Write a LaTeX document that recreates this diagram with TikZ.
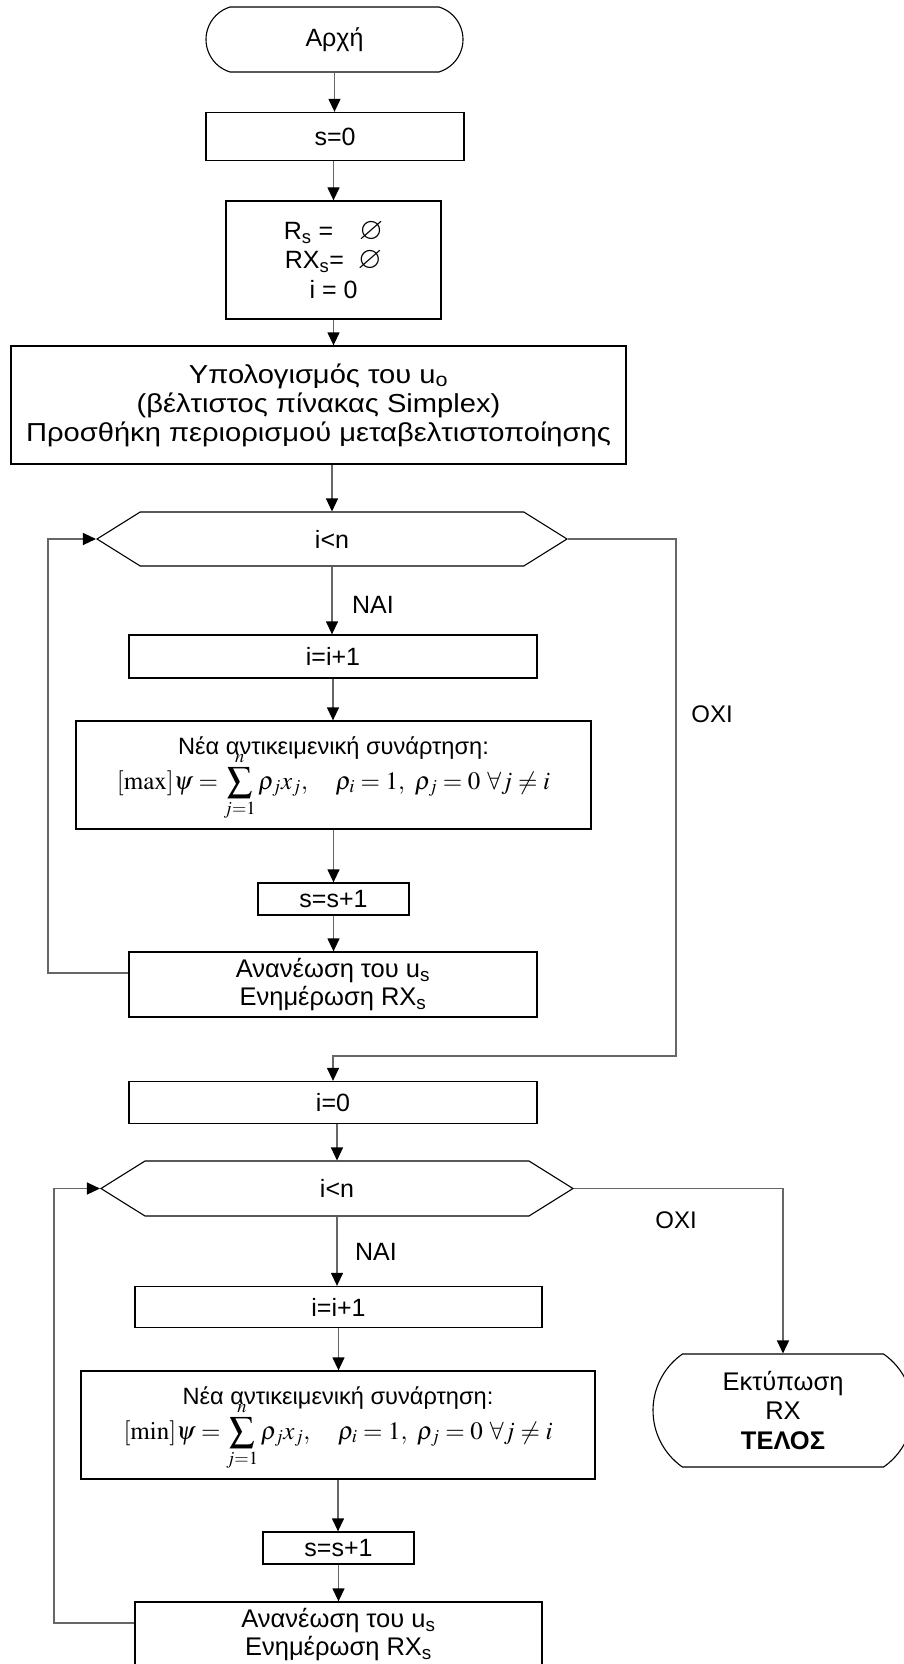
\documentclass[tikz,border=0pt]{standalone}
\usepackage{amssymb}
\usepackage{mathptmx}
\usepackage[no-math]{fontspec}
\setmainfont{Liberation Sans}
\newfontfamily\widesans[FakeStretch=1.12]{Liberation Sans}
\usetikzlibrary{arrows.meta,shapes.misc,shapes.symbols}

% objective function, shared by both loops
\newcommand{\objfun}[1]{{\fontsize{25}{30}\selectfont
  $[\mathrm{#1}]\psi = \displaystyle\sum_{j=1}^{n}\rho_j x_j,\quad \rho_i = 1,\ \rho_j = 0\ \forall j \neq i$}}
% large empty-set sign
\newcommand{\nullset}{{\fontsize{31}{29}\selectfont$\varnothing$}}

\begin{document}
\begin{tikzpicture}[x=1pt,y=-1pt,
  every node/.style={font=\fontsize{25}{29.5}\selectfont},
  proc/.style={draw=black, line width=1.3pt, rectangle, align=center, inner sep=0pt},
  term/.style={draw=black, line width=1.1pt, rounded rectangle, align=center, inner sep=0pt},
  test/.style={draw=black, line width=1.1pt, signal, signal to=west and east,
    signal pointer angle=64, inner sep=0pt},
  flow/.style={draw=black!60, line width=1.3pt,
    -{Triangle[length=13pt,width=12pt,color=black]}},
  tag/.style={inner sep=0pt},
  objective/.style={proc, font=\fontsize{23.6}{29}\selectfont},
  update/.style={proc, font=\fontsize{25.5}{28.5}\selectfont}]

\clip (0,0) rectangle (904,1664);

% ---- initialisation ----
\node[term, rounded rectangle arc length=146, minimum width=257pt, minimum height=65pt]
  (start) at (334.5,39.5) {Αρχή};
\node[proc, minimum width=258pt, minimum height=48pt] (s0) at (335,136.5) {s=0};
\node[proc, minimum width=215pt, minimum height=118pt] (init) at (333.5,260)
  {R\textsubscript{s} =\hspace{26pt}\nullset\\
   RX\textsubscript{s}=\hspace{14pt}\nullset\\
   i = 0};
\node[proc, minimum width=615pt, minimum height=118pt,
  font=\widesans\fontsize{26}{29}\selectfont] (uo) at (318.5,405)
  {Υπολογισμός του u\textsubscript{o}\\
   (βέλτιστος πίνακας Simplex)\\
   Προσθήκη περιορισμού μεταβελτιστοποίησης};

% ---- first loop (max) ----
\node[test, minimum width=470pt, minimum height=54pt] (loopA) at (332,539) {i<n};
\node[tag] (yesA) at (373,605) {ΝΑΙ};
\node[proc, minimum width=408pt, minimum height=43pt] (incA) at (333,656.5) {i=i+1};
\node[objective, minimum width=515pt, minimum height=108pt] (objA) at (333.5,775)
  {\rule{0pt}{26pt}Νέα αντικειμενική συνάρτηση:\\[-9pt] \objfun{max}};
\node[proc, minimum width=151pt, minimum height=32pt] (stepA) at (333.5,899) {s=s+1};
\node[update, minimum width=408pt, minimum height=65pt] (updA) at (333,984.5)
  {Ανανέωση του u\textsubscript{s}\\ Ενημέρωση RX\textsubscript{s}};
\node[tag, font=\fontsize{24}{29}\selectfont] (noA) at (712,714) {ΟΧΙ};
\coordinate (backA) at (48,539);
\coordinate (turnA) at (676,1056);

% ---- second loop (min) ----
\node[proc, minimum width=408pt, minimum height=42pt] (zero) at (333,1102.5) {i=0};
\node[test, minimum width=472pt, minimum height=55pt] (loopB) at (337,1188.5) {i<n};
\node[tag] (yesB) at (376,1252) {ΝΑΙ};
\node[proc, minimum width=407pt, minimum height=41pt] (incB) at (338.5,1307) {i=i+1};
\node[objective, minimum width=514pt, minimum height=108pt] (objB) at (338,1425)
  {\rule{0pt}{26pt}Νέα αντικειμενική συνάρτηση:\\[-9pt] \objfun{min}};
\node[proc, minimum width=151pt, minimum height=32pt] (stepB) at (338.5,1548) {s=s+1};
\node[update, minimum width=407pt, minimum height=65pt] (updB) at (338.5,1634.5)
  {Ανανέωση του u\textsubscript{s}\\ Ενημέρωση RX\textsubscript{s}};
\node[tag, font=\fontsize{24}{29}\selectfont] (noB) at (676,1220) {ΟΧΙ};
\node[term, rounded rectangle arc length=110, minimum width=260pt, minimum height=113pt,
  font=\fontsize{25.5}{29.5}\selectfont]
  (finish) at (783,1410.5) {Εκτύπωση\\ RX\\ \textbf{ΤΕΛΟΣ}};
\coordinate (backB) at (54,1188.5);

% ---- connectors ----
\draw[flow] (start.south) -- (start.south |- s0.north);
\draw[flow] (init.north |- s0.south) -- (init.north);
\draw[flow] (init.south) -- (init.south |- uo.north);
\draw[flow] (loopA.north |- uo.south) -- (loopA.north);
\draw[flow] (loopA.south) -- (loopA.south |- incA.north);
\draw[flow] (incA.south) -- (incA.south |- objA.north);
\draw[flow] (objA.south) -- (objA.south |- stepA.north);
\draw[flow] (stepA.south) -- (stepA.south |- updA.north);
\draw[flow] ([yshift=11.5pt]updA.west) -| (backA) -- (loopA.west);
\draw[flow] (loopA.east) -| (turnA) -| (zero.north);

\draw[flow] (loopB.north |- zero.south) -- (loopB.north);
\draw[flow] (loopB.south) -- (loopB.south |- incB.north);
\draw[flow] (incB.south) -- (incB.south |- objB.north);
\draw[flow] (objB.south) -- (objB.south |- stepB.north);
\draw[flow] (stepB.south) -- (stepB.south |- updB.north);
\draw[flow] ([yshift=11.5pt]updB.west) -| (backB) -- (loopB.west);
\draw[flow] (loopB.east) -| (finish.north);
\end{tikzpicture}
\end{document}
